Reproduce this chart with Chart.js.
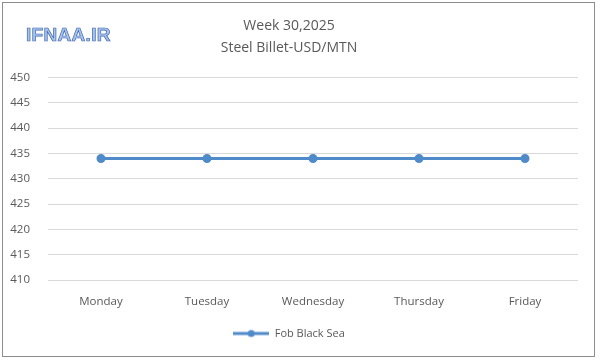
<!DOCTYPE html>
<html>
<head>
<meta charset="utf-8">
<script src="https://cdn.jsdelivr.net/npm/chart.js@4/dist/chart.umd.min.js"></script>
<style>
  html, body { margin: 0; padding: 0; background: #fff; }
  #wrap { position: relative; width: 600px; height: 363px; }
  #frame { position: absolute; left: 2px; top: 2px; width: 591px; height: 353px; border: 1px solid #8c8c8c; box-sizing: content-box; pointer-events: none; }
  #logo { position: absolute; left: 26px; top: 24px; font: bold 19px "Liberation Sans", sans-serif; color: #a8c4ec;
          -webkit-text-stroke: 0.7px #3f66b0; letter-spacing: 0.3px; }
</style>
</head>
<body>
<div id="wrap">
  <canvas id="chart" width="600" height="363"></canvas>
  <div id="frame"></div>
  <div id="logo">IFNAA.IR</div>
</div>
<script>
const days = ['Monday', 'Tuesday', 'Wednesday', 'Thursday', 'Friday'];
const fobBlackSea = [434, 434, 434, 434, 434];
const titleLines = ['Week 30,2025', 'Steel Billet-USD/MTN'];

const fontFamily = '"Open Sans", "Liberation Sans", sans-serif';
const lineBlue = '#4f8ac9';

// legend marker: line with a dot in the middle
const marker = document.createElement('canvas');
marker.width = 36; marker.height = 10;
(function () {
    const c = marker.getContext('2d');
    c.strokeStyle = lineBlue; c.lineWidth = 3;
    c.beginPath(); c.moveTo(0, 5); c.lineTo(36, 5); c.stroke();
    c.fillStyle = lineBlue;
    c.beginPath(); c.arc(18, 5, 3.5, 0, Math.PI * 2); c.fill();
})();

new Chart(document.getElementById('chart').getContext('2d'), {
    type: 'line',
    data: {
        labels: days,
        datasets: [{
            label: 'Fob Black Sea',
            data: fobBlackSea,
            borderColor: lineBlue,
            backgroundColor: lineBlue,
            borderWidth: 3,
            pointRadius: 3,
            pointHoverRadius: 3,
            tension: 0
        }]
    },
    options: {
        responsive: false,
        animation: false,
        layout: { padding: { top: 8, right: 22, bottom: 14, left: 0 } },
        plugins: {
            title: {
                display: true,
                text: titleLines,
                color: '#595959',
                font: { family: fontFamily, size: 14, weight: 'normal', lineHeight: 1.55 },
                padding: { top: 7, bottom: 19 }
            },
            legend: {
                position: 'bottom',
                labels: {
                    color: '#595959',
                    font: { family: fontFamily, size: 11 },
                    usePointStyle: true,
                    pointStyle: marker,
                    pointStyleWidth: 36,
                    padding: 12
                }
            },
            tooltip: { enabled: false }
        },
        scales: {
            x: {
                offset: true,
                grid: { display: false },
                border: { display: false },
                ticks: { color: '#595959', font: { family: fontFamily, size: 11.5 }, padding: 7 }
            },
            y: {
                min: 410,
                max: 450,
                afterFit: function (scale) { scale.width = 48; },
                grid: { color: '#d9d9d9', drawTicks: false },
                border: { display: false },
                ticks: { stepSize: 5, color: '#595959', font: { family: fontFamily, size: 11.5 }, padding: 18 }
            }
        }
    }
});
</script>
</body>
</html>
